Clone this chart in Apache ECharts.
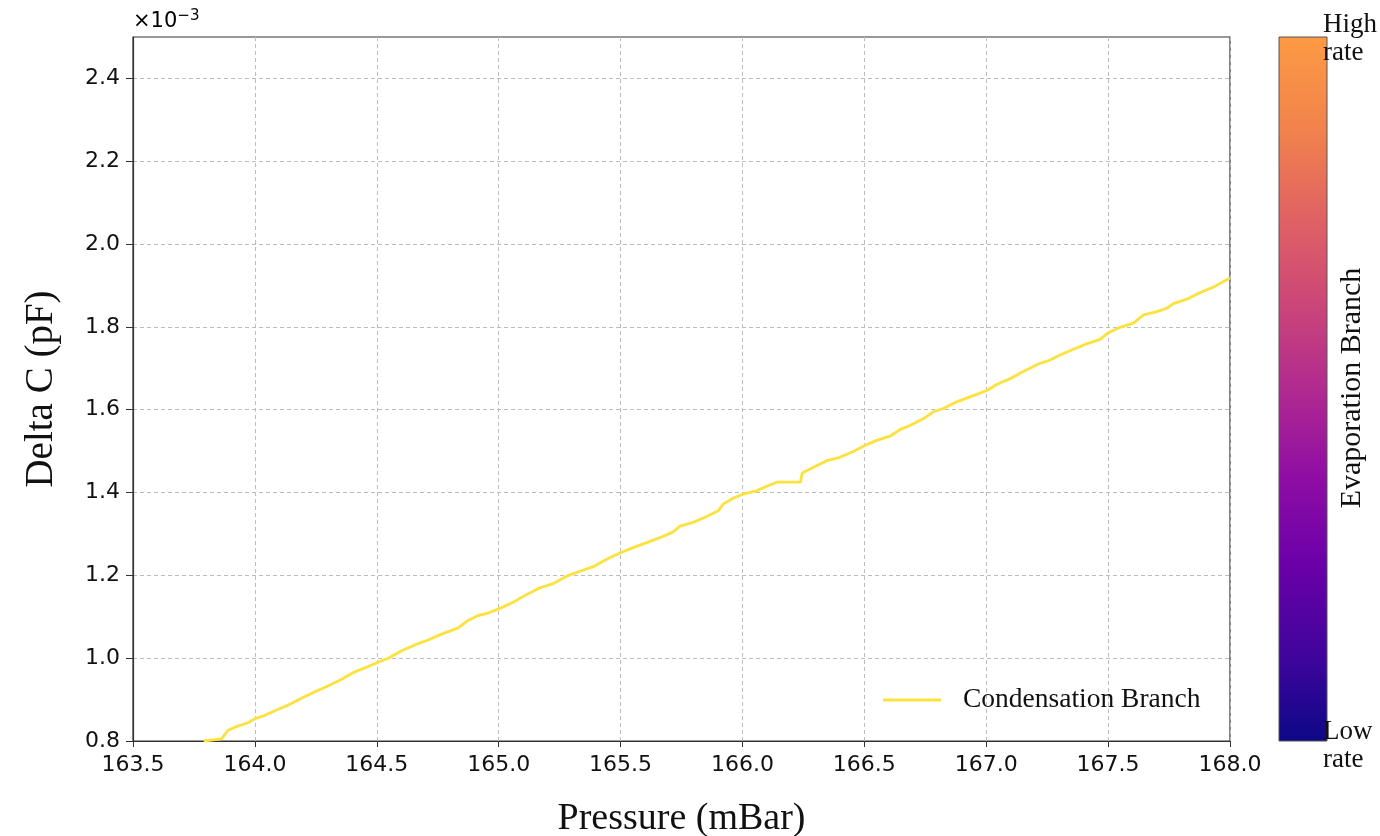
<!DOCTYPE html>
<html>
<head>
<meta charset="utf-8">
<script src="https://cdn.jsdelivr.net/npm/echarts@6/dist/echarts.min.js"></script>
<style>html,body{margin:0;padding:0;background:#fff;}#chart{width:1380px;height:836px;}</style>
</head>
<body>
<div id="chart"></div>
<script>
// Pressure (mBar)
const pressure = [
  163.79, 163.863, 163.89, 163.93, 163.972, 164.0, 164.041, 164.082, 164.137, 164.191,
  164.246, 164.30, 164.356, 164.41, 164.465, 164.5, 164.547, 164.602, 164.656, 164.711,
  164.766, 164.834, 164.875, 164.916, 164.957, 165.0, 165.06, 165.115, 165.17, 165.224,
  165.279, 165.333, 165.388, 165.443, 165.502, 165.552, 165.607, 165.662, 165.716, 165.744,
  165.798, 165.853, 165.901, 165.921, 165.962, 166.001, 166.058, 166.1, 166.141, 166.194,
  166.238, 166.245, 166.291, 166.346, 166.40, 166.455, 166.504, 166.551, 166.605, 166.646,
  166.687, 166.742, 166.783, 166.824, 166.879, 166.906, 166.961, 167.005, 167.043, 167.098,
  167.152, 167.221, 167.262, 167.303, 167.358, 167.412, 167.467, 167.501, 167.549, 167.604,
  167.645, 167.70, 167.741, 167.768, 167.823, 167.878, 167.932, 167.987, 168.0
];
// Delta C (pF), in units of 1e-3
const deltaC = [
  0.800, 0.805, 0.826, 0.836, 0.844, 0.854, 0.862, 0.873, 0.887, 0.903,
  0.919, 0.933, 0.949, 0.967, 0.980, 0.989, 1.000, 1.018, 1.032, 1.044,
  1.058, 1.073, 1.091, 1.103, 1.109, 1.119, 1.135, 1.154, 1.170, 1.180,
  1.198, 1.210, 1.221, 1.239, 1.255, 1.267, 1.279, 1.291, 1.305, 1.319,
  1.328, 1.342, 1.356, 1.372, 1.386, 1.396, 1.404, 1.415, 1.425, 1.425,
  1.425, 1.447, 1.461, 1.477, 1.485, 1.499, 1.514, 1.526, 1.536, 1.552,
  1.562, 1.578, 1.595, 1.603, 1.619, 1.625, 1.637, 1.647, 1.661, 1.675,
  1.692, 1.712, 1.720, 1.732, 1.746, 1.759, 1.770, 1.786, 1.799, 1.809,
  1.829, 1.837, 1.845, 1.856, 1.867, 1.883, 1.896, 1.914, 1.918
];
const xTicks = [163.5, 164.0, 164.5, 165.0, 165.5, 166.0, 166.5, 167.0, 167.5, 168.0];
const yTicks = [0.8, 1.0, 1.2, 1.4, 1.6, 1.8, 2.0, 2.2, 2.4];
// plasma colormap stops (low -> high rate)
const colorbarColors = ['#0d0887', '#41049d', '#6a00a8', '#8f0da4', '#b12a90', '#cc4778', '#e16462', '#f2844b', '#fd9a44'];

const chart = echarts.init(document.getElementById('chart'));
const serif = '"Liberation Serif", "Times New Roman", serif';
const sans = '"DejaVu Sans", sans-serif';
const gridL = 133, gridT = 37, gridR = 150, gridB = 95;
const cbX = 1279, cbW = 48, cbY = 37, cbH = 704;

const lineData = pressure.map((p, i) => [p, deltaC[i]]);

chart.setOption({
  animation: false,
  backgroundColor: '#fff',
  grid: { left: gridL, top: gridT, right: gridR, bottom: gridB, outerBoundsMode: 'none', containLabel: false,
          show: true, borderColor: '#333', borderWidth: 1.2, backgroundColor: 'transparent' },
  legend: {
    left: 878, top: 681,
    itemWidth: 58, itemHeight: 3,
    textStyle: { fontFamily: serif, fontSize: 27.5, color: '#111', padding: [0, 0, 0, 17] },
    data: [{ name: 'Condensation Branch', icon: 'rect' }]
  },
  xAxis: {
    type: 'value', min: 163.5, max: 168.0, interval: 0.5,
    name: 'Pressure (mBar)', nameLocation: 'middle', nameGap: 59,
    nameTextStyle: { fontFamily: serif, fontSize: 38, color: '#111' },
    axisLine: { lineStyle: { color: '#333', width: 1.2 } },
    axisTick: { show: true, length: 6, lineStyle: { color: '#333' }, customValues: xTicks },
    axisLabel: { fontFamily: sans, fontSize: 22, color: '#111', margin: 13, customValues: xTicks, formatter: v => v.toFixed(1) },
    splitLine: { show: true, lineStyle: { color: '#bdbdbd', type: [4, 3], width: 1 } }
  },
  yAxis: {
    type: 'value', min: 0.8, max: 2.5, interval: 0.2,
    name: 'Delta C (pF)', nameLocation: 'middle', nameGap: 72,
    nameTextStyle: { fontFamily: serif, fontSize: 39, color: '#111' },
    axisLine: { show: true, lineStyle: { color: '#333', width: 1.2 } },
    axisTick: { show: true, length: 7, lineStyle: { color: '#333' }, customValues: yTicks },
    axisLabel: { fontFamily: sans, fontSize: 22, color: '#111', margin: 13, customValues: yTicks, formatter: v => v.toFixed(1) },
    splitLine: { show: true, lineStyle: { color: '#bdbdbd', type: [4, 3], width: 1 } }
  },
  series: [{
    name: 'Condensation Branch',
    type: 'line',
    data: lineData,
    symbol: 'none',
    lineStyle: { color: '#fde13c', width: 2.8 },
    itemStyle: { color: '#fde13c' },
    clip: true
  }],
  graphic: [
    {
      type: 'text', left: 133, top: 9,
      style: {
        text: '{a|×10}{b|−3}',
        rich: {
          a: { fontFamily: sans, fontSize: 21, color: '#111', verticalAlign: 'bottom' },
          b: { fontFamily: sans, fontSize: 15, color: '#111', verticalAlign: 'top', padding: [0, 0, 8, 0] }
        }
      }
    },
    {
      type: 'rect',
      shape: { x: cbX, y: cbY, width: cbW, height: cbH },
      style: {
        fill: new echarts.graphic.LinearGradient(0, 1, 0, 0,
          colorbarColors.map((c, i) => ({ offset: i / (colorbarColors.length - 1), color: c }))),
        stroke: '#555', lineWidth: 1
      }
    },
    {
      type: 'text', x: 1323, y: 11,
      style: { text: 'High\nrate', fontFamily: serif, fontSize: 27, lineHeight: 28, fill: '#111' }
    },
    {
      type: 'text', x: 1323, y: 718,
      style: { text: 'Low\nrate', fontFamily: serif, fontSize: 27, lineHeight: 28, fill: '#111' }
    },
    {
      type: 'text', x: 1352, y: 388, rotation: Math.PI / 2,
      style: { text: 'Evaporation Branch', fontFamily: serif, fontSize: 30, fill: '#111', align: 'center', verticalAlign: 'middle' }
    }
  ]
});
</script>
</body>
</html>
